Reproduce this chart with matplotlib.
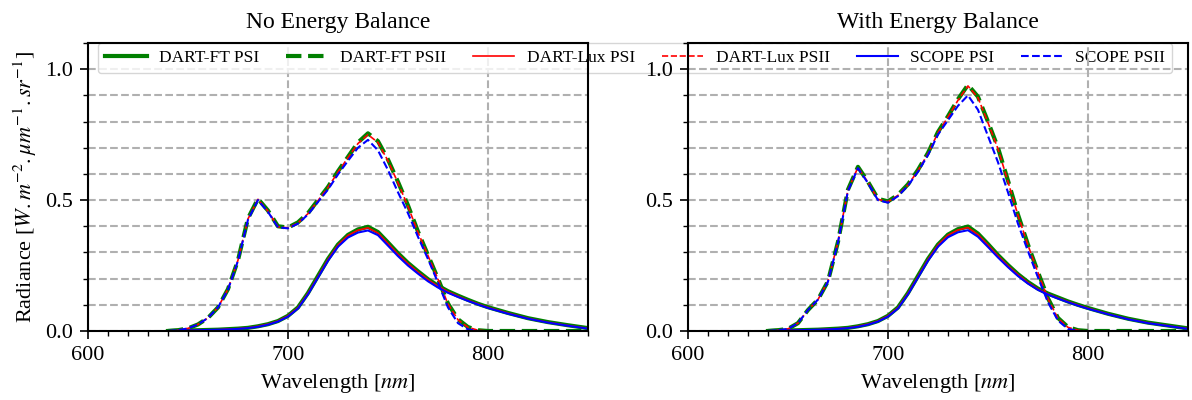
import matplotlib
matplotlib.use("Agg")
import matplotlib.pyplot as plt
from matplotlib.ticker import MultipleLocator

plt.rcParams["font.family"] = ["Liberation Serif", "DejaVu Serif"]
plt.rcParams["mathtext.fontset"] = "stix"

# wavelength grid (nm)
wl = [640, 645, 650, 655, 660, 665, 670, 675, 680, 685, 690, 695, 700, 705, 710,
      715, 720, 725, 730, 735, 740, 745, 750, 755, 760, 765, 770, 775, 780, 785,
      790, 795, 800, 810, 820, 830, 840, 850]

# --- No Energy Balance ---
noeb_ft_psi = [0.000, 0.001, 0.002, 0.003, 0.004, 0.005, 0.007, 0.009, 0.012, 0.018,
               0.026, 0.038, 0.058, 0.090, 0.145, 0.210, 0.275, 0.330, 0.367, 0.388,
               0.398, 0.378, 0.338, 0.297, 0.260, 0.228, 0.198, 0.173, 0.152, 0.135,
               0.119, 0.104, 0.091, 0.069, 0.049, 0.034, 0.022, 0.011]
noeb_ft_psii = [0.000, 0.003, 0.010, 0.025, 0.050, 0.090, 0.160, 0.270, 0.430, 0.505,
                0.460, 0.400, 0.395, 0.415, 0.450, 0.500, 0.550, 0.610, 0.665, 0.720,
                0.755, 0.725, 0.655, 0.570, 0.480, 0.380, 0.290, 0.200, 0.105, 0.045,
                0.015, 0.003, 0.000, 0.000, 0.000, 0.000, 0.000, 0.000]
noeb_lux_psi = [0.000, 0.001, 0.002, 0.003, 0.004, 0.005, 0.007, 0.009, 0.012, 0.018,
                0.026, 0.038, 0.058, 0.089, 0.144, 0.208, 0.273, 0.328, 0.365, 0.385,
                0.394, 0.374, 0.334, 0.293, 0.257, 0.225, 0.196, 0.171, 0.150, 0.133,
                0.117, 0.103, 0.090, 0.068, 0.048, 0.033, 0.021, 0.010]
noeb_lux_psii = [0.000, 0.003, 0.010, 0.025, 0.050, 0.090, 0.160, 0.270, 0.428, 0.503,
                 0.458, 0.398, 0.394, 0.413, 0.448, 0.498, 0.548, 0.607, 0.662, 0.716,
                 0.750, 0.720, 0.650, 0.566, 0.476, 0.377, 0.288, 0.198, 0.103, 0.043,
                 0.014, 0.003, 0.000, 0.000, 0.000, 0.000, 0.000, 0.000]
noeb_scope_psi = [0.000, 0.001, 0.002, 0.003, 0.004, 0.005, 0.006, 0.008, 0.011, 0.016,
                  0.024, 0.036, 0.055, 0.086, 0.140, 0.204, 0.268, 0.322, 0.357, 0.376,
                  0.384, 0.366, 0.326, 0.286, 0.250, 0.219, 0.190, 0.166, 0.146, 0.130,
                  0.115, 0.101, 0.088, 0.066, 0.047, 0.032, 0.020, 0.009]
noeb_scope_psii = [0.000, 0.003, 0.010, 0.025, 0.050, 0.090, 0.158, 0.268, 0.425, 0.500,
                   0.455, 0.396, 0.392, 0.410, 0.445, 0.493, 0.540, 0.598, 0.650, 0.700,
                   0.730, 0.690, 0.615, 0.530, 0.450, 0.360, 0.275, 0.185, 0.090, 0.030,
                   0.006, 0.000, 0.000, 0.000, 0.000, 0.000, 0.000, 0.000]

# --- With Energy Balance ---
eb_ft_psi = [0.000, 0.001, 0.002, 0.003, 0.004, 0.005, 0.007, 0.009, 0.012, 0.018,
             0.026, 0.038, 0.058, 0.090, 0.145, 0.210, 0.275, 0.330, 0.368, 0.389,
             0.399, 0.372, 0.332, 0.290, 0.252, 0.217, 0.187, 0.162, 0.143, 0.128,
             0.113, 0.100, 0.088, 0.066, 0.047, 0.032, 0.021, 0.010]
eb_ft_psii = [0.000, 0.003, 0.008, 0.030, 0.080, 0.120, 0.190, 0.340, 0.540, 0.627,
              0.570, 0.505, 0.495, 0.520, 0.560, 0.615, 0.680, 0.760, 0.820, 0.885,
              0.940, 0.895, 0.800, 0.700, 0.575, 0.445, 0.330, 0.225, 0.125, 0.050,
              0.015, 0.003, 0.000, 0.000, 0.000, 0.000, 0.000, 0.000]
eb_lux_psi = [0.000, 0.001, 0.002, 0.003, 0.004, 0.005, 0.007, 0.009, 0.012, 0.018,
              0.026, 0.038, 0.058, 0.089, 0.144, 0.208, 0.273, 0.328, 0.366, 0.386,
              0.395, 0.368, 0.328, 0.287, 0.249, 0.215, 0.185, 0.160, 0.141, 0.126,
              0.112, 0.099, 0.087, 0.065, 0.046, 0.031, 0.020, 0.009]
eb_lux_psii = [0.000, 0.003, 0.008, 0.030, 0.080, 0.120, 0.190, 0.340, 0.538, 0.625,
               0.568, 0.503, 0.494, 0.518, 0.558, 0.612, 0.677, 0.757, 0.817, 0.881,
               0.936, 0.891, 0.796, 0.696, 0.571, 0.442, 0.328, 0.223, 0.123, 0.048,
               0.014, 0.003, 0.000, 0.000, 0.000, 0.000, 0.000, 0.000]
eb_scope_psi = [0.000, 0.001, 0.002, 0.003, 0.004, 0.005, 0.006, 0.008, 0.011, 0.016,
                0.024, 0.036, 0.055, 0.086, 0.140, 0.204, 0.268, 0.322, 0.358, 0.377,
                0.385, 0.360, 0.321, 0.281, 0.244, 0.210, 0.181, 0.157, 0.139, 0.124,
                0.110, 0.097, 0.085, 0.064, 0.045, 0.030, 0.019, 0.008]
eb_scope_psii = [0.000, 0.003, 0.008, 0.030, 0.080, 0.120, 0.188, 0.338, 0.535, 0.622,
                 0.565, 0.500, 0.490, 0.515, 0.555, 0.608, 0.672, 0.750, 0.805, 0.860,
                 0.900, 0.845, 0.745, 0.645, 0.530, 0.410, 0.305, 0.205, 0.110, 0.040,
                 0.008, 0.000, 0.000, 0.000, 0.000, 0.000, 0.000, 0.000]

panels = [
    ("No Energy Balance", noeb_ft_psi, noeb_ft_psii, noeb_lux_psi, noeb_lux_psii,
     noeb_scope_psi, noeb_scope_psii),
    ("With Energy Balance", eb_ft_psi, eb_ft_psii, eb_lux_psi, eb_lux_psii,
     eb_scope_psi, eb_scope_psii),
]

fig, axes = plt.subplots(1, 2, figsize=(11.92, 4.0), dpi=100)
fig.subplots_adjust(left=0.0738, right=0.9966, bottom=0.1725, top=0.8925, wspace=0.2)

for ax, (title, ft1, ft2, lux1, lux2, sc1, sc2) in zip(axes, panels):
    ax.plot(wl, ft1, color="green", lw=3, label="DART-FT PSI")
    ax.plot(wl, ft2, color="green", lw=3, ls="--", label="DART-FT PSII")
    ax.plot(wl, lux1, color="red", lw=1.2, label="DART-Lux PSI")
    ax.plot(wl, lux2, color="red", lw=1.2, ls="--", label="DART-Lux PSII")
    ax.plot(wl, sc1, color="blue", lw=1.5, label="SCOPE PSI")
    ax.plot(wl, sc2, color="blue", lw=1.5, ls="--", label="SCOPE PSII")

    ax.set_xlim(600, 850)
    ax.set_ylim(0, 1.1)
    ax.xaxis.set_major_locator(MultipleLocator(100))
    ax.xaxis.set_minor_locator(MultipleLocator(10))
    ax.yaxis.set_major_locator(MultipleLocator(0.5))
    ax.yaxis.set_minor_locator(MultipleLocator(0.1))
    ax.grid(True, which="major", axis="both", ls="--", lw=1.5, color="#b0b0b0")
    ax.grid(True, which="minor", axis="y", ls="--", lw=1.5, color="#b0b0b0")
    ax.tick_params(which="major", length=6, width=1.2, labelsize=16, pad=5)
    ax.tick_params(which="minor", length=3.5, width=1.0)
    for s in ax.spines.values():
        s.set_linewidth(1.5)
    ax.set_title(title, fontsize=17, pad=11)
    ax.set_xlabel("Wavelength [$nm$]", fontsize=16, labelpad=5)

axes[0].set_ylabel(r"Radiance [$W.m^{-2}.\mu m^{-1}.sr^{-1}$]", fontsize=16)

# right panel background transparent so the shared legend shows through
axes[1].patch.set_alpha(0)

leg = axes[0].legend(loc="upper left", bbox_to_anchor=(0.02, 1.0), borderaxespad=0,
                     ncol=6, fontsize=12.5, handlelength=2.4, handletextpad=0.7,
                     columnspacing=1.55)
leg.set_zorder(2.4)

fig.savefig("out.png", dpi=100)
